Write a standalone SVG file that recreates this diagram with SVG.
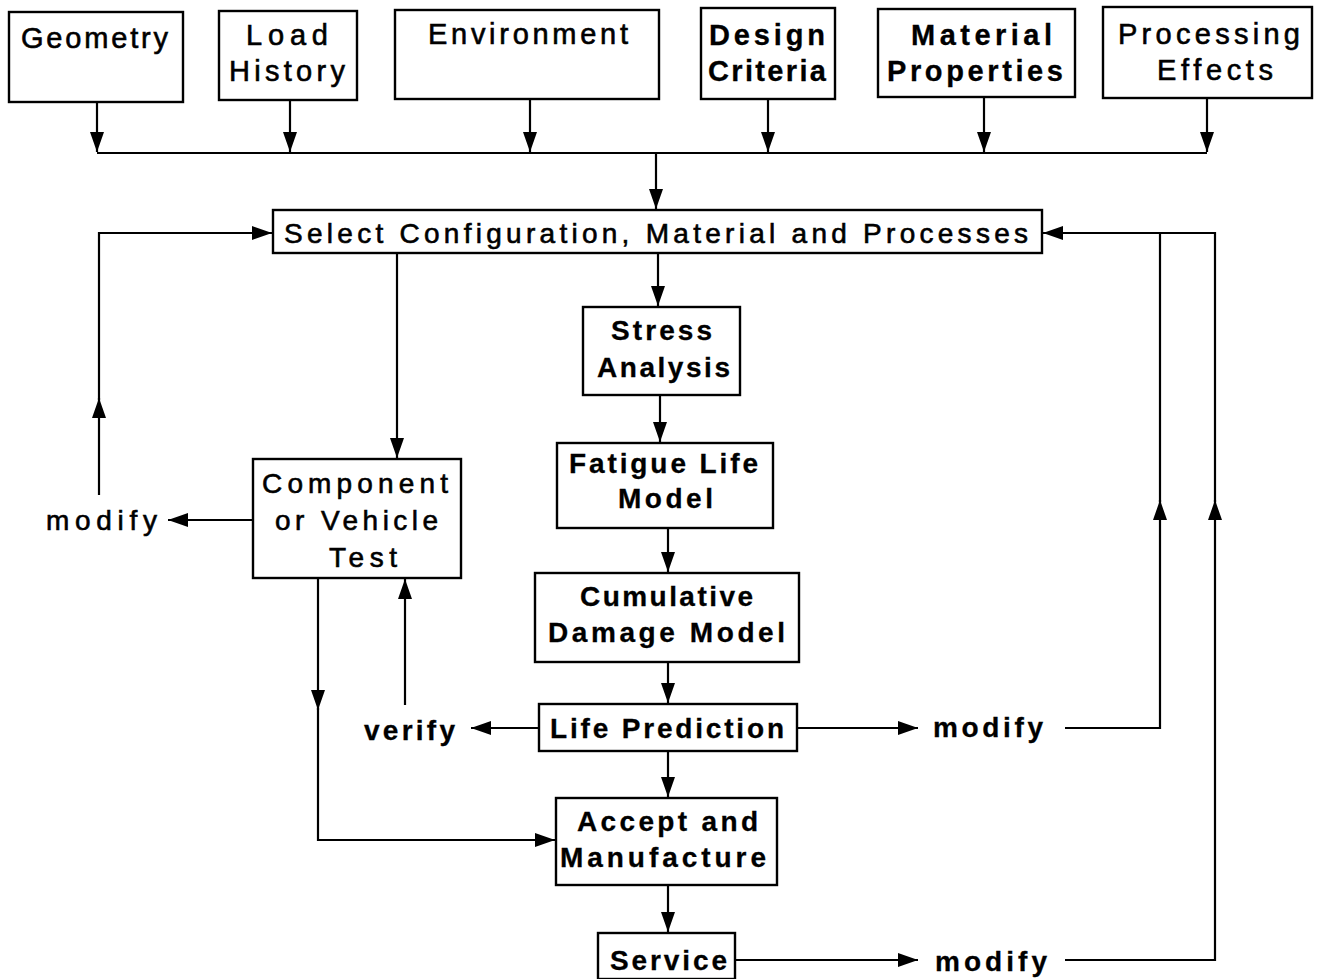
<svg xmlns="http://www.w3.org/2000/svg" width="1320" height="979" viewBox="0 0 1320 979">
<style>
.box{fill:#fff;stroke:#000;stroke-width:2.4}
.ln{fill:none;stroke:#000;stroke-width:2.2}
text{font-family:"Liberation Sans",Arial,sans-serif;font-size:28px;fill:#000;stroke:#000;stroke-width:0.6}
.t{font-size:29px}
.b{font-weight:bold;stroke-width:0.3}
</style>
<defs>
<marker id="ah" markerUnits="userSpaceOnUse" viewBox="0 0 20 16" refX="20" refY="8" markerWidth="20" markerHeight="16" orient="auto">
<path d="M0,1 L20,8 L0,15 z" fill="#000"/>
</marker>
</defs>
<rect width="1320" height="979" fill="#fff"/>

<g id="geometry"><rect class="box" x="9" y="12" width="174" height="90"/><text class="t" x="21" y="48" textLength="147" lengthAdjust="spacing">Geometry</text></g>
<g id="loadhistory"><rect class="box" x="219" y="11" width="138" height="89"/><text class="t" x="246" y="45" textLength="82" lengthAdjust="spacing">Load</text><text class="t" x="229" y="81" textLength="116" lengthAdjust="spacing">History</text></g>
<g id="environment"><rect class="box" x="395" y="10" width="264" height="89"/><text class="t" x="428" y="44" textLength="200" lengthAdjust="spacing">Environment</text></g>
<g id="designcriteria"><rect class="box" x="701" y="8" width="134" height="91"/><text class="t b" x="709" y="45" textLength="116" lengthAdjust="spacing">Design</text><text class="t b" x="708" y="81" textLength="118" lengthAdjust="spacing">Criteria</text></g>
<g id="materialproperties"><rect class="box" x="878" y="9" width="197" height="88"/><text class="t b" x="911" y="45" textLength="141" lengthAdjust="spacing">Material</text><text class="t b" x="887" y="81" textLength="176" lengthAdjust="spacing">Properties</text></g>
<g id="processingeffects"><rect class="box" x="1103" y="7" width="209" height="91"/><text class="t" x="1118" y="44" textLength="182" lengthAdjust="spacing">Processing</text><text class="t" x="1157" y="80" textLength="116" lengthAdjust="spacing">Effects</text></g>

<g id="select"><rect class="box" x="273" y="210" width="769" height="43"/><text x="284" y="243" textLength="744" lengthAdjust="spacing">Select Configuration, Material and Processes</text></g>
<g id="stress"><rect class="box" x="583" y="307" width="157" height="88"/><text class="b" x="611" y="340" textLength="101" lengthAdjust="spacing">Stress</text><text class="b" x="597" y="377" textLength="133" lengthAdjust="spacing">Analysis</text></g>
<g id="fatigue"><rect class="box" x="557" y="443" width="216" height="85"/><text class="b" x="569" y="473" textLength="189" lengthAdjust="spacing">Fatigue Life</text><text class="b" x="618" y="508" textLength="95" lengthAdjust="spacing">Model</text></g>
<g id="cumulative"><rect class="box" x="535" y="573" width="264" height="89"/><text class="b" x="580" y="606" textLength="173" lengthAdjust="spacing">Cumulative</text><text class="b" x="548" y="642" textLength="237" lengthAdjust="spacing">Damage Model</text></g>
<g id="lifeprediction"><rect class="box" x="539" y="704" width="258" height="47"/><text class="b" x="550" y="738" textLength="234" lengthAdjust="spacing">Life Prediction</text></g>
<g id="accept"><rect class="box" x="556" y="798" width="221" height="87"/><text class="b" x="577" y="831" textLength="181" lengthAdjust="spacing">Accept and</text><text class="b" x="560" y="867" textLength="206" lengthAdjust="spacing">Manufacture</text></g>
<g id="service"><rect class="box" x="598" y="933" width="137" height="46"/><text class="b" x="610" y="970" textLength="117" lengthAdjust="spacing">Service</text></g>
<g id="component"><rect class="box" x="253" y="459" width="208" height="119"/><text x="262" y="493" textLength="186" lengthAdjust="spacing">Component</text><text x="275" y="530" textLength="163" lengthAdjust="spacing">or Vehicle</text><text x="329" y="567" textLength="68" lengthAdjust="spacing">Test</text></g>

<g id="labels">
<text x="46" y="530" textLength="111" lengthAdjust="spacing">modify</text>
<text class="b" x="364" y="740" textLength="91" lengthAdjust="spacing">verify</text>
<text class="b" x="933" y="737" textLength="110" lengthAdjust="spacing">modify</text>
<text class="b" x="935" y="971" textLength="112" lengthAdjust="spacing">modify</text>
</g>

<g id="connectors">
<path class="ln" d="M97,102 V152" marker-end="url(#ah)"/>
<path class="ln" d="M290,100 V152" marker-end="url(#ah)"/>
<path class="ln" d="M530,99 V152" marker-end="url(#ah)"/>
<path class="ln" d="M768,99 V152" marker-end="url(#ah)"/>
<path class="ln" d="M984,97 V152" marker-end="url(#ah)"/>
<path class="ln" d="M1207,98 V152" marker-end="url(#ah)"/>
<path class="ln" d="M97,153 H1207"/>
<path class="ln" d="M656,153 V209" marker-end="url(#ah)"/>
<path class="ln" d="M658,253 V306" marker-end="url(#ah)"/>
<path class="ln" d="M660,395 V442" marker-end="url(#ah)"/>
<path class="ln" d="M668,528 V572" marker-end="url(#ah)"/>
<path class="ln" d="M668,662 V703" marker-end="url(#ah)"/>
<path class="ln" d="M668,751 V797" marker-end="url(#ah)"/>
<path class="ln" d="M668,885 V932" marker-end="url(#ah)"/>
<path class="ln" d="M397,253 V458" marker-end="url(#ah)"/>
<path class="ln" d="M253,520 H168" marker-end="url(#ah)"/>
<path class="ln" d="M99,495 V398" marker-end="url(#ah)"/>
<path class="ln" d="M99,400 V233 H272" marker-end="url(#ah)"/>
<path class="ln" d="M318,578 V710" marker-end="url(#ah)"/>
<path class="ln" d="M318,708 V840 H555" marker-end="url(#ah)"/>
<path class="ln" d="M405,705 V579" marker-end="url(#ah)"/>
<path class="ln" d="M539,728 H471" marker-end="url(#ah)"/>
<path class="ln" d="M797,728 H918" marker-end="url(#ah)"/>
<path class="ln" d="M1065,728 H1160 V500" marker-end="url(#ah)"/>
<path class="ln" d="M1160,502 V233"/>
<path class="ln" d="M735,960 H918" marker-end="url(#ah)"/>
<path class="ln" d="M1065,960 H1215 V500" marker-end="url(#ah)"/>
<path class="ln" d="M1215,502 V233 H1043" marker-end="url(#ah)"/>
</g>
</svg>
